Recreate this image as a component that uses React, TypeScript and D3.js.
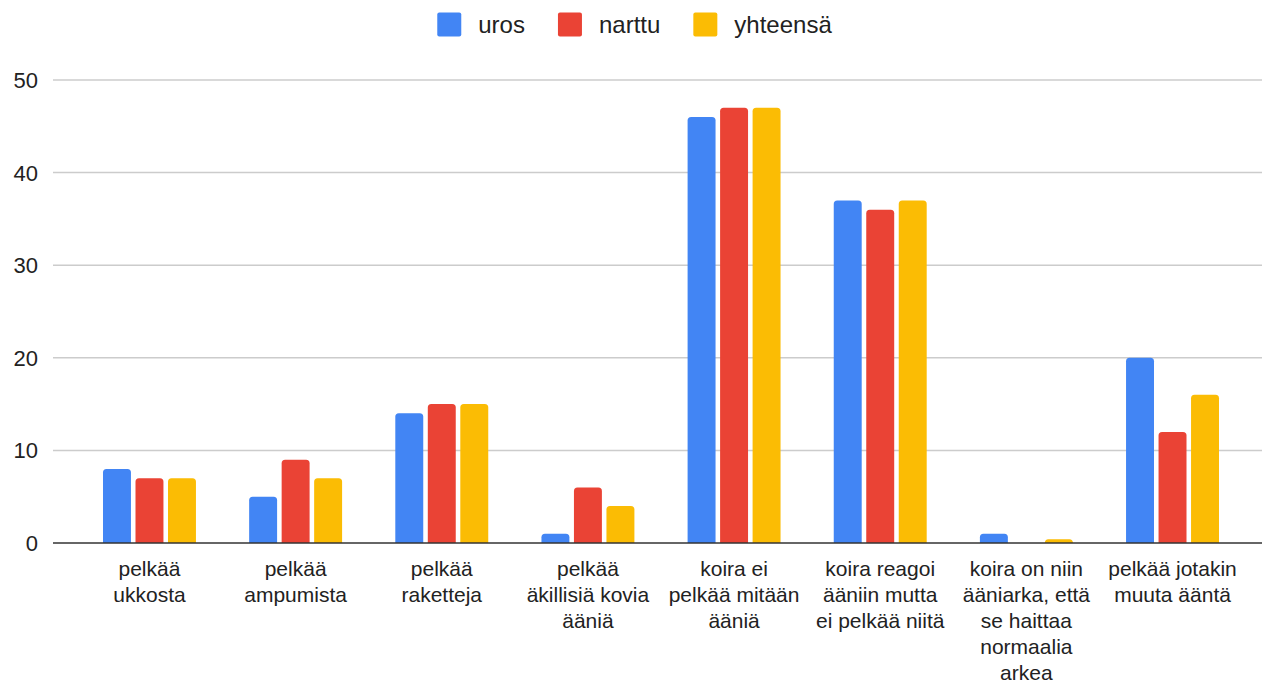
import React, { useEffect, useRef } from "react";
import * as d3 from "d3";

const categories: string[] = [
  "pelkää\nukkosta",
  "pelkää\nampumista",
  "pelkää\nraketteja",
  "pelkää\näkillisiä kovia\nääniä",
  "koira ei\npelkää mitään\nääniä",
  "koira reagoi\nääniin mutta\nei pelkää niitä",
  "koira on niin\nääniarka, että\nse haittaa\nnormaalia\narkea",
  "pelkää jotakin\nmuuta ääntä",
];
const seriesNames: string[] = ["uros", "narttu", "yhteensä"];
const uros: number[] = [8, 5, 14, 1, 46, 37, 1, 20];
const narttu: number[] = [7, 9, 15, 6, 47, 36, 0, 12];
const yhteensa: number[] = [7, 7, 15, 4, 47, 37, 0.4, 16];
const seriesValues: number[][] = [uros, narttu, yhteensa];
const colors: string[] = ["#4285F4", "#EA4335", "#FBBC04"];
const yTicks: number[] = [0, 10, 20, 30, 40, 50];

const W = 1263;
const H = 682;

export default function App() {
  const ref = useRef<SVGSVGElement | null>(null);

  useEffect(() => {
    document.body.style.margin = "0";
    const svg = d3.select(ref.current);
    svg.selectAll("*").remove();

    const y = d3.scaleLinear().domain([0, 50]).range([543, 80]);
    const x0 = d3
      .scaleBand<string>()
      .domain(categories)
      .range([76.4, 1245.6])
      .paddingInner(0.364)
      .paddingOuter(0.182);
    const x1 = d3
      .scaleBand<string>()
      .domain(seriesNames)
      .range([0, x0.bandwidth()])
      .paddingInner(0.14);

    const gridL = 53;
    const gridR = 1262;

    // gridlines
    svg
      .append("g")
      .selectAll("line")
      .data(yTicks.filter((t) => t !== 0))
      .join("line")
      .attr("x1", gridL)
      .attr("x2", gridR)
      .attr("y1", (d) => y(d))
      .attr("y2", (d) => y(d))
      .attr("stroke", "#cccccc")
      .attr("stroke-width", 1.5);

    // y tick labels
    svg
      .append("g")
      .selectAll("text")
      .data(yTicks)
      .join("text")
      .attr("x", 38)
      .attr("y", (d) => y(d))
      .attr("dy", "0.36em")
      .attr("text-anchor", "end")
      .attr("font-family", "'Liberation Sans', Arial, sans-serif")
      .attr("font-size", 22)
      .attr("fill", "#222")
      .text((d) => String(d));

    // bars with rounded top corners
    const barPath = (x: number, w: number, top: number, bottom: number) => {
      const h = bottom - top;
      if (h <= 0) return "";
      const r = Math.min(3.5, h, w / 2);
      return `M${x},${bottom}V${top + r}Q${x},${top} ${x + r},${top}H${x + w - r}Q${x + w},${top} ${x + w},${top + r}V${bottom}Z`;
    };

    const groups = svg
      .append("g")
      .selectAll("g")
      .data(categories)
      .join("g")
      .attr("transform", (d) => `translate(${x0(d)},0)`);

    groups
      .selectAll("path")
      .data((_, i) => seriesNames.map((s, k) => ({ s, k, v: seriesValues[k][i] })))
      .join("path")
      .attr("d", (d) => barPath(x1(d.s)!, x1.bandwidth(), y(d.v), y(0)))
      .attr("fill", (d) => colors[d.k]);

    // zero axis line
    svg
      .append("line")
      .attr("x1", gridL)
      .attr("x2", gridR)
      .attr("y1", y(0))
      .attr("y2", y(0))
      .attr("stroke", "#333333")
      .attr("stroke-width", 1.5);

    // x labels
    const xl = svg.append("g");
    categories.forEach((c) => {
      const lines = c.split("\n");
      const t = xl
        .append("text")
        .attr("x", x0(c)! + x0.bandwidth() / 2)
        .attr("y", 575.5)
        .attr("text-anchor", "middle")
        .attr("font-family", "'Liberation Sans', Arial, sans-serif")
        .attr("font-size", 21)
        .attr("fill", "#222");
      lines.forEach((ln, i) => {
        t.append("tspan")
          .attr("x", x0(c)! + x0.bandwidth() / 2)
          .attr("dy", i === 0 ? 0 : 26)
          .text(ln);
      });
    });

    // legend
    const lg = svg.append("g");
    const sq = 24;
    const gapSqText = 17;
    const gapItems = 33;
    const items = seriesNames.map((s, k) => {
      const g = lg.append("g");
      g.append("rect")
        .attr("width", sq)
        .attr("height", sq)
        .attr("rx", 2)
        .attr("y", 12.5)
        .attr("fill", colors[k]);
      const t = g
        .append("text")
        .attr("x", sq + gapSqText)
        .attr("y", 33)
        .attr("font-family", "'Liberation Sans', Arial, sans-serif")
        .attr("font-size", 24)
        .attr("fill", "#222")
        .text(s);
      const tw = (t.node() as SVGTextElement).getComputedTextLength();
      return { g, w: sq + gapSqText + tw };
    });
    const total = d3.sum(items, (d) => d.w) + gapItems * (items.length - 1);
    let cx = (W - total) / 2 + 3;
    items.forEach((it) => {
      it.g.attr("transform", `translate(${cx},0)`);
      cx += it.w + gapItems;
    });
  }, []);

  return (
    <svg
      ref={ref}
      width={W}
      height={H}
      style={{ display: "block", background: "#fff" }}
    />
  );
}
